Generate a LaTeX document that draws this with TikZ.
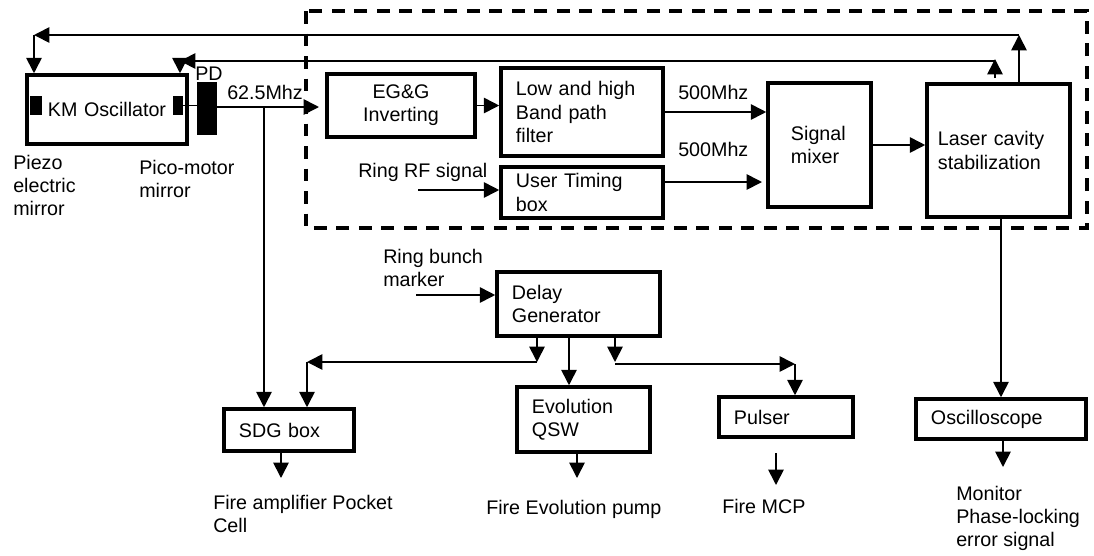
\documentclass[tikz,border=0pt]{standalone}
\usepackage{fontspec}
\setmainfont{Liberation Sans}
\usetikzlibrary{arrows.meta}
\tikzset{
  every node/.style={font=\fontsize{14}{16.5}\selectfont},
  blk/.style={draw, line width=2.5pt, inner xsep=0.375cm, inner ysep=0pt, align=left},
  lbl/.style={anchor=north west, inner sep=0pt, align=left},
  mirror/.style={fill=black, inner sep=0pt},
  arr/.style={line width=1.2pt, -{Triangle[length=11pt,width=11pt]}},
  dashbox/.style={line width=2.5pt, dash pattern=on 9pt off 7pt},
}
\begin{document}
\begin{tikzpicture}[x=0.025cm,y=-0.025cm]
 \useasboundingbox (0,0) rectangle (1094,555);

 % laser head
 \node[blk, align=center, minimum width=4cm, text width=3.25cm, minimum height=1.725cm] (osc) at (107,109.5) {KM Oscillator};
 \node[mirror, minimum width=0.3cm, minimum height=0.475cm] (pzm) at (36,105.5) {};
 \node[mirror, minimum width=0.25cm, minimum height=0.475cm] (pcm) at (178,105.5) {};
 \node[mirror, minimum width=0.5cm, minimum height=1.325cm] (pd) at (207,108.5) {};
 \node[lbl] (pdl) at (195,67) {PD};
 \node[lbl] (pzl) at (13,155) {Piezo\\electric\\mirror};
 \node[lbl] (pcl) at (139,160) {Pico-motor\\mirror};
 \node[lbl] (frq) at (227,85) {62.5Mhz};

 % locking electronics
 \draw[dashbox] (306,11) rectangle (1087,228);
 \node[blk, align=center, minimum width=3.7cm, text width=2.95cm, minimum height=1.575cm] (egg) at (401,105.5) {EG\&G\\Inverting};
 \node[blk, minimum width=4.05cm, text width=3.3cm, minimum height=2.2cm] (filt) at (582,112) {Low and high\\Band path\\filter};
 \node[blk, minimum width=4.05cm, text width=3.3cm, minimum height=1.275cm] (utb) at (582,192.5) {User Timing\\box};
 \node[blk, inner xsep=0.575cm, minimum width=2.575cm, text width=1.425cm, minimum height=3.1cm] (mix) at (819.5,145) {Signal\\mixer};
 \node[blk, inner xsep=0.275cm, minimum width=3.575cm, text width=3.025cm, minimum height=3.325cm] (lcs) at (998.5,150.5) {Laser cavity\\stabilization};
 \node[lbl] (rfl) at (358,163) {Ring RF signal};
 \node[lbl] (f1) at (678,85) {500Mhz};
 \node[lbl] (f2) at (678,142) {500Mhz};

 % timing
 \node[blk, minimum width=4.075cm, text width=3.325cm, minimum height=1.6cm] (dly) at (578.5,304) {Delay\\Generator};
 \node[blk, minimum width=3.25cm, text width=2.5cm, minimum height=1.05cm] (sdg) at (289,430) {SDG box};
 \node[blk, minimum width=3.325cm, text width=2.575cm, minimum height=1.625cm] (evo) at (583.5,419.5) {Evolution\\QSW};
 \node[blk, minimum width=3.35cm, text width=2.6cm, minimum height=1cm] (pls) at (786,417) {Pulser};
 \node[blk, minimum width=4.25cm, text width=3.5cm, minimum height=1cm] (scope) at (1001,419) {Oscilloscope};
 \node[lbl] (rbl) at (383,249) {Ring bunch\\marker};
 \node[lbl] (fal) at (213,495) {Fire amplifier Pocket\\Cell};
 \node[lbl] (fel) at (486,500) {Fire Evolution pump};
 \node[lbl] (fml) at (722,499) {Fire MCP};
 \node[lbl] (mnl) at (956,486) {Monitor\\Phase-locking\\error signal};

 % free ends
 \coordinate (egin) at (319,107);
 \coordinate (tap) at (264,107);
 \coordinate (fbtop) at (1019,35);
 \coordinate (pzt) at (34,35);
 \coordinate (pcb) at (995,78);
 \coordinate (pcu) at (995,59);
 \coordinate (pct) at (180,61);
 \coordinate (rfin) at (418,190);
 \coordinate (mixin) at (762,182);
 \coordinate (rbin) at (416,295);
 \coordinate (dsplit) at (537,362);
 \coordinate (sdgc) at (307,362);
 \coordinate (evx) at (569,387);
 \coordinate (pspl) at (615,362);
 \coordinate (plsc) at (795,364);
 \coordinate (fa) at (281,478);
 \coordinate (fe) at (577,478);
 \coordinate (fmt) at (776,453);
 \coordinate (fmb) at (776,485);
 \coordinate (mon) at (1003,467);

 % signal path
 \draw[line width=1.2pt] (pcm.east) -- (pcm.east -| pd.west);
 \draw[arr] (pd.east |- egin) -- (egin);
 \draw[arr] (tap) -- (tap |- sdg.north);
 \draw[arr] (egg.east) -- (egg.east -| filt.west);
 \draw[arr] (rfin) -- (rfin -| utb.west);
 \draw[arr] (filt.east) -- (filt.east -| mix.west);
 \draw[arr] (utb.east |- mixin) -- (mixin);
 \draw[arr] (mix.east) -- (mix.east -| lcs.west);

 % feedback to the mirrors
 \draw[arr] (lcs.north -| fbtop) -- (fbtop);
 \draw[arr] (fbtop) -- (pzt);
 \draw[arr] (pzt) -- (pzt |- osc.north);
 \draw[arr] (pcb) -- (pcu);
 \draw[arr] (pcu |- pct) -- (pct);
 \draw[arr] (pct) -- (pct |- osc.north);

 % triggers
 \draw[arr] (rbin) -- (rbin -| dly.west);
 \draw[arr] (dly.south -| dsplit) -- (dsplit);
 \draw[arr] (dsplit) -- (sdgc);
 \draw[arr] (sdgc) -- (sdgc |- sdg.north);
 \draw[arr] (dly.south -| evx) -- (evo.north -| evx);
 \draw[arr] (dly.south -| pspl) -- (pspl);
 \draw[arr] (pspl |- plsc) -- (plsc);
 \draw[arr] (plsc) -- (plsc |- pls.north);
 \draw[arr] (sdg.south -| fa) -- (fa);
 \draw[arr] (evo.south -| fe) -- (fe);
 \draw[arr] (fmt) -- (fmb);
 \draw[arr] (lcs.south -| scope.north) -- (scope.north);
 \draw[arr] (scope.south -| mon) -- (mon);
\end{tikzpicture}
\end{document}
